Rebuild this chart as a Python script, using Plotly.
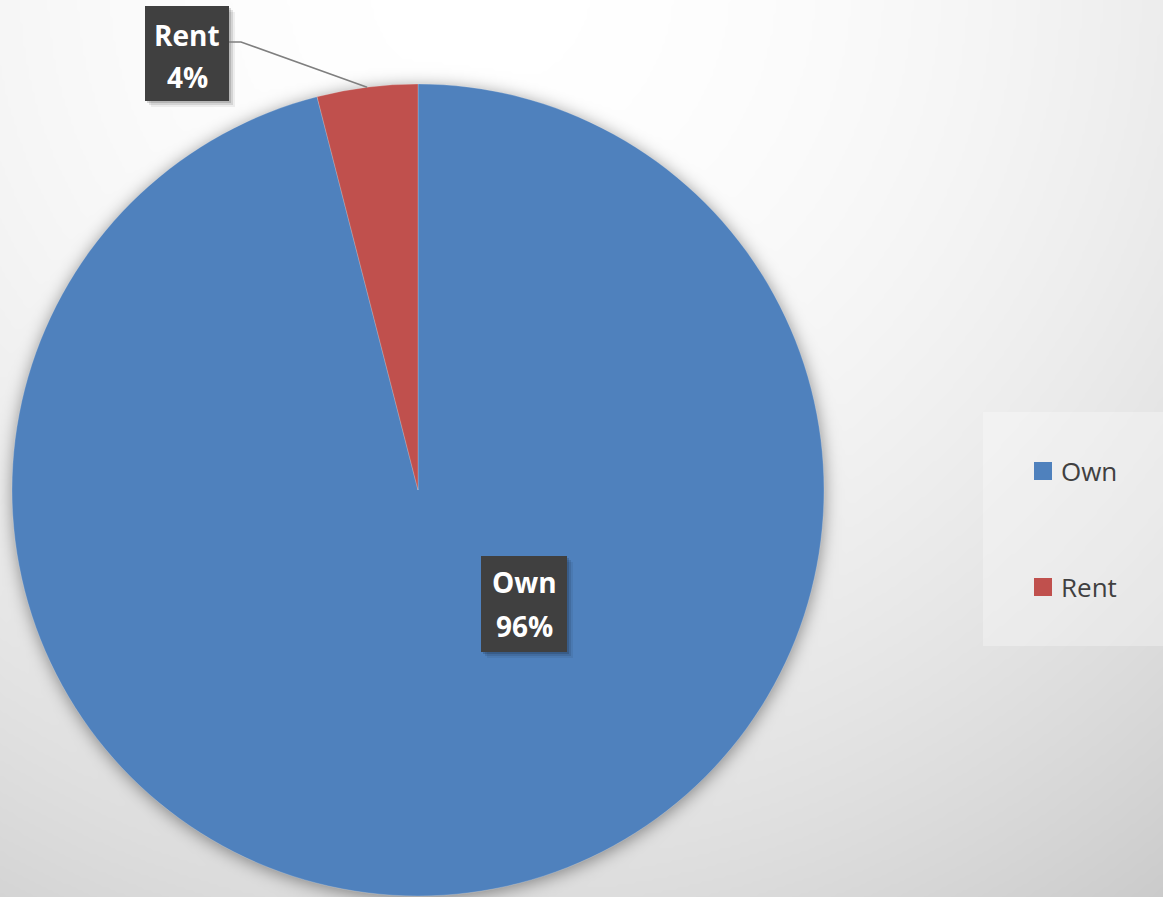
import math
import numpy as np
import plotly.graph_objects as go

# ---- data ----
labels = ["Own", "Rent"]
values = [96, 4]
colors = ["#4F81BD", "#C0504D"]

W, H = 1163, 897

# pie placement (pixels)
CX, CY, R = 418, 490, 406

# ---- background: soft radial grey gradient with a blurred drop shadow under the pie ----
step = 3
xs = np.arange(0, W + step, step, dtype=float)
ys = np.arange(0, H + step, step, dtype=float)
gx, gy = np.meshgrid(xs, ys)
d2 = (gx - 480.0) ** 2 + (gy + 20.0) ** 2
base = np.clip(255.0 - 4.0e-5 * d2, 195, 255)
rr = np.sqrt((gx - CX) ** 2 + (gy - (CY + 2)) ** 2)
sigma = 8.0
erfc = np.vectorize(math.erfc)
shadow = 0.42 * 0.5 * erfc((rr - R) / (sigma * math.sqrt(2)))
gray = np.round(base * (1.0 - shadow)).astype(int)

fig = go.Figure()
fig.add_trace(go.Heatmap(
    x=xs, y=ys, z=gray, zmin=0, zmax=255,
    colorscale=[[0, "rgb(0,0,0)"], [1, "rgb(255,255,255)"]],
    showscale=False, zsmooth="best", hoverinfo="skip",
))

fig.add_trace(go.Pie(
    labels=labels, values=values, sort=False, direction="clockwise", rotation=0,
    marker=dict(colors=colors, line=dict(color="rgba(255,255,255,0.2)", width=1)),
    textinfo="none", hoverinfo="label+percent", showlegend=False,
    domain=dict(x=[(CX - R) / W, (CX + R) / W], y=[(H - (CY + R)) / H, (H - (CY - R)) / H]),
))

shapes = []
annotations = []

total = sum(values)
pct = [f"{round(v / total * 100)}%" for v in values]

# data label boxes: (x0, y0, x1, y1) and line centres
label_boxes = {
    "Own": dict(box=(481, 556, 567, 652), lines=(582, 626)),
    "Rent": dict(box=(145, 6, 229, 101), lines=(35, 77)),
}

for i, lab in enumerate(labels):
    b = label_boxes[lab]
    x0, y0, x1, y1 = b["box"]
    # soft shadow
    for off, op in [(6, 0.06), (4, 0.10), (2, 0.14)]:
        shapes.append(dict(type="rect", xref="x", yref="y", layer="above",
                           x0=x0 + off, y0=y0 + off, x1=x1 + off, y1=y1 + off,
                           fillcolor=f"rgba(0,0,0,{op})", line=dict(width=0)))
    shapes.append(dict(type="rect", xref="x", yref="y", layer="above",
                       x0=x0, y0=y0, x1=x1, y1=y1,
                       fillcolor="#404040", line=dict(width=0)))
    cxb = (x0 + x1) / 2
    for txt, yl in zip([lab, pct[i]], b["lines"]):
        annotations.append(dict(xref="x", yref="y", x=cxb, y=yl, text=f"<b>{txt}</b>",
                                showarrow=False, xanchor="center", yanchor="middle",
                                font=dict(family="Open Sans", size=28, color="white")))

# leader line for the small slice, ending on the rim at the slice's mid-angle
cum = 0
for i, v in enumerate(values):
    if labels[i] == "Rent":
        mid = 2 * math.pi * (cum + v / 2) / total
        ex = CX + R * math.sin(mid)
        ey = CY - R * math.cos(mid)
        bx1 = label_boxes["Rent"]["box"][2]
        by = 42
        shapes.append(dict(type="path", xref="x", yref="y", layer="above",
                           path=f"M {bx1},{by} L {bx1 + 12},{by} L {ex:.1f},{ey:.1f}",
                           line=dict(color="#7f7f7f", width=1.5)))
    cum += v

# legend panel
shapes.append(dict(type="rect", xref="x", yref="y", layer="above",
                   x0=983, y0=412, x1=W + 2, y1=646,
                   fillcolor="rgba(255,255,255,0.3)", line=dict(width=0)))
legend_y = [471, 587]
for lab, col, ly in zip(labels, colors, legend_y):
    shapes.append(dict(type="rect", xref="x", yref="y", layer="above",
                       x0=1034, y0=ly - 9, x1=1052, y1=ly + 9,
                       fillcolor=col, line=dict(width=0)))
    annotations.append(dict(xref="x", yref="y", x=1059, y=ly, text=lab,
                            showarrow=False, xanchor="left", yanchor="middle",
                            font=dict(family="Open Sans", size=26, color="#404040")))

fig.update_layout(
    width=W, height=H, margin=dict(l=0, r=0, t=0, b=0),
    paper_bgcolor="white", plot_bgcolor="white", showlegend=False,
    xaxis=dict(range=[0, W], domain=[0, 1], visible=False, fixedrange=True),
    yaxis=dict(range=[H, 0], domain=[0, 1], visible=False, fixedrange=True),
    shapes=shapes, annotations=annotations,
)

fig.write_html("out.html")
